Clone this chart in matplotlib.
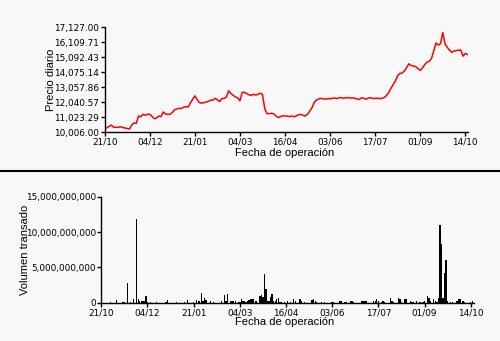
import numpy as np
import matplotlib
matplotlib.use("Agg")
from matplotlib import pyplot as plt
from matplotlib.lines import Line2D
from matplotlib.ticker import FuncFormatter

# daily closing price (top panel)
price = [
    10257, 10291, 10393, 10467, 10325, 10325, 10325, 10365, 10311, 10277,
    10250, 10209, 10481, 10623, 10596, 11091, 11044, 11206, 11145, 11206,
    11206, 11064, 10908, 10955, 11091, 11057, 11362, 11227, 11206, 11206,
    11328, 11518, 11566, 11613, 11600, 11681, 11722, 11702, 11973, 12210,
    12454, 12217, 12000, 11959, 12000, 12040, 12081, 12176, 12162, 12285,
    12190, 12074, 12264, 12292, 12380, 12800, 12617, 12502, 12380, 12326,
    12122, 12698, 12698, 12610, 12529, 12488, 12563, 12515, 12563, 12631,
    12570, 11600, 11254, 11254, 11267, 11241, 11091, 10989, 11044, 11105,
    11098, 11084, 11050, 11091, 11044, 11091, 11179, 11206, 11139, 11091,
    11213, 11430, 11661, 12020, 12176, 12251, 12285, 12258, 12231, 12271,
    12258, 12292, 12312, 12271, 12326, 12332, 12299, 12332, 12332, 12306,
    12332, 12292, 12258, 12210, 12332, 12299, 12224, 12312, 12332, 12278,
    12292, 12292, 12271, 12292, 12339, 12475, 12671, 12970, 13227, 13478,
    13831, 13973, 14014, 14143, 14380, 14631, 14509, 14482, 14441, 14299,
    14184, 14346, 14584, 14740, 14801, 14990, 15500, 16042, 15906, 15987,
    16760, 15987, 15750, 15560, 15404, 15499, 15526, 15554, 15567, 15147,
    15330, 15262]

# traded volume per session, in millions
volume_mm = [
    0, 0, 0, 0, 0, 0, 150, 0, 0, 0, 330, 0, 0, 0, 150, 150, 0, 2780, 0, 120,
    0, 500, 0, 11900, 500, 200, 200, 200, 300, 950, 100, 0, 120, 0, 0, 0, 100, 0, 0, 0,
    0, 0, 100, 350, 0, 0, 0, 0, 0, 100, 0, 0, 0, 0, 100, 0, 350, 0, 0, 0,
    100, 0, 350, 200, 200, 1350, 300, 600, 450, 0, 0, 200, 0, 100, 0, 0, 0, 0, 200, 0,
    1050, 300, 1170, 0, 200, 200, 200, 200, 0, 120, 120, 570, 300, 300, 100, 300, 400, 500, 570, 480,
    200, 200, 0, 900, 1150, 850, 4100, 2000, 300, 200, 800, 1250, 200, 250, 550, 700, 150, 100, 0, 150,
    0, 300, 0, 150, 0, 570, 200, 0, 0, 570, 250, 0, 100, 0, 0, 0, 0, 380, 570, 300,
    100, 0, 0, 150, 0, 100, 0, 0, 0, 0, 100, 100, 0, 0, 0, 250, 200, 0, 150, 150,
    0, 0, 200, 200, 150, 0, 0, 0, 0, 250, 200, 300, 200, 0, 0, 0, 0, 200, 300, 570,
    200, 0, 150, 200, 150, 0, 0, 0, 700, 200, 150, 0, 0, 600, 570, 150, 0, 570, 570, 0,
    0, 200, 150, 150, 0, 300, 0, 150, 0, 100, 200, 0, 900, 700, 300, 0, 570, 200, 150, 700,
    11050, 8330, 700, 4140, 6050, 300, 0, 150, 150, 0, 0, 200, 570, 570, 0, 300, 150, 0, 0, 0,
    150, 300]

date_labels = ['21/10', '04/12', '21/01', '04/03', '16/04', '03/06', '17/07', '01/09', '14/10']
price_min = 10006.0
price_max = 17127.0
volume_ticks = [0, 5e9, 10e9, 15e9]

bg = '#f8f8f8'
tick_font = ['Liberation Sans Narrow', 'DejaVu Sans']
label_font = ['Liberation Sans', 'DejaVu Sans']

fig = plt.figure(figsize=(5.0, 3.41), dpi=100, facecolor=bg)

def style_axes(ax):
    ax.set_facecolor(bg)
    for s in ['top', 'right']:
        ax.spines[s].set_visible(False)
    for s in ['left', 'bottom']:
        ax.spines[s].set_linewidth(1.0)
    ax.tick_params(direction='out', length=3, width=1.0, pad=1, labelsize=6.4)
    for t in ax.get_xticklabels() + ax.get_yticklabels():
        t.set_family(tick_font)

# price panel
ax1 = fig.add_axes([0.2094, 0.6129, 0.7257, 0.3079])
x1 = np.arange(len(price))
ax1.plot(x1, price, color='#ff0000', lw=1.1)
ax1.set_xlim(0, len(price) - 1)
ax1.set_ylim(price_min, price_max)
ax1.set_yticks(np.linspace(price_min, price_max, 8))
ax1.yaxis.set_major_formatter(FuncFormatter(lambda v, p: '{:,.2f}'.format(v)))
step1 = (len(price) - 2) // (len(date_labels) - 1)
ax1.set_xticks(np.arange(len(date_labels)) * step1)
ax1.set_xticklabels(date_labels)
style_axes(ax1)

# volume panel
ax2 = fig.add_axes([0.2026, 0.1123, 0.7449, 0.3109])
vol = np.array(volume_mm) * 1e6
x2 = np.arange(len(vol))
ax2.bar(x2, vol, width=0.9, color='black', linewidth=0)
ax2.set_xlim(0, len(vol))
ax2.set_ylim(0, volume_ticks[-1])
ax2.set_yticks(volume_ticks)
ax2.yaxis.set_major_formatter(FuncFormatter(lambda v, p: '{:,.0f}'.format(v)))
step2 = (len(vol) - 2) // (len(date_labels) - 1)
ax2.set_xticks(np.arange(len(date_labels)) * step2)
ax2.set_xticklabels(date_labels)
style_axes(ax2)

# axis titles
fig.text(0.102, 0.765, 'Precio diario', rotation=90, ha='center', va='center',
         fontsize=8, family=label_font)
fig.text(0.05, 0.267, 'Volumen transado', rotation=90, ha='center', va='center',
         fontsize=8, family=label_font)
fig.text(0.569, 0.551, 'Fecha de operación', ha='center', va='center',
         fontsize=8, family=label_font)
fig.text(0.57, 0.056, 'Fecha de operación', ha='center', va='center',
         fontsize=8, family=label_font)

# separator between the two panels
fig.add_artist(Line2D([0, 1], [0.4985, 0.4985], color='black', lw=1.5))

fig.savefig('out.png', dpi=100, facecolor=bg)
